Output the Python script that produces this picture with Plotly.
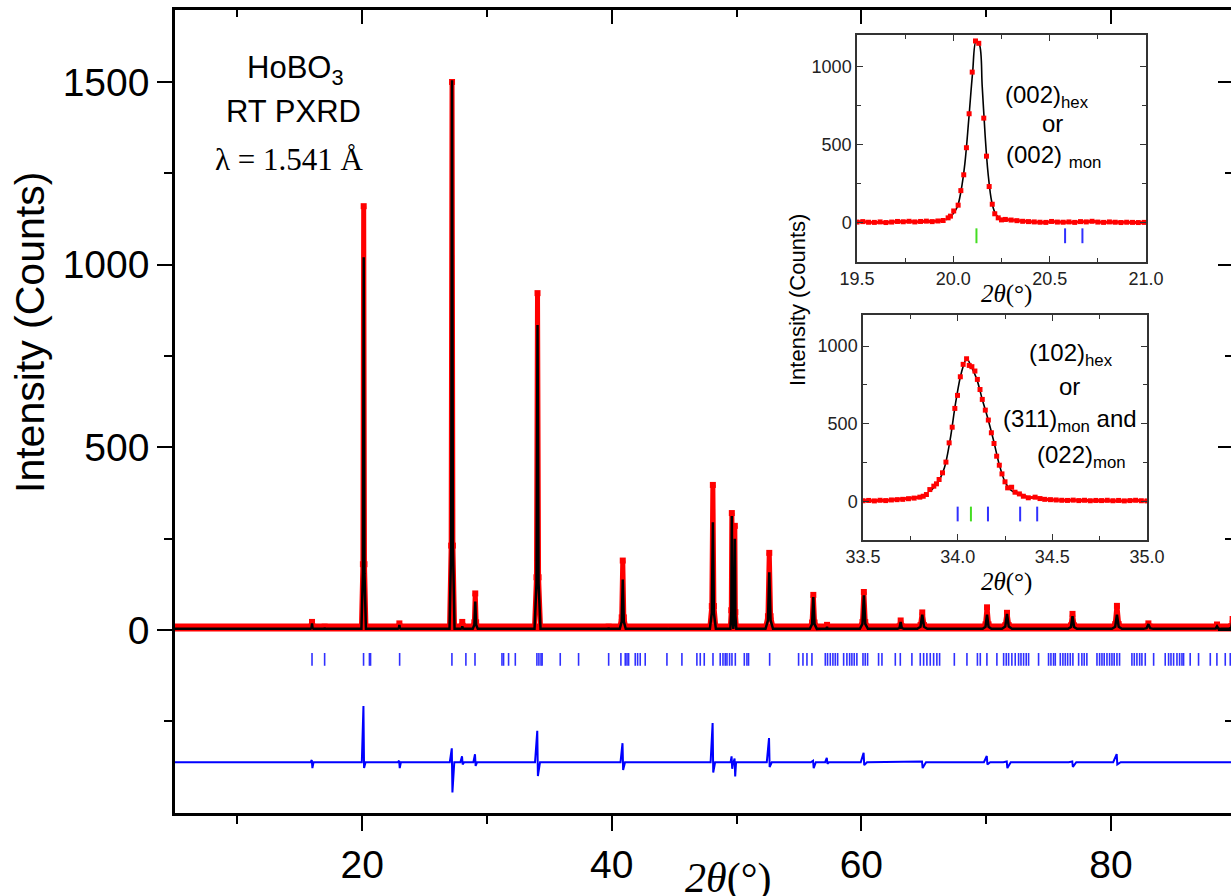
import plotly.graph_objects as go

# ---------------- main pattern ----------------
X_RANGE = [5.0, 89.62]
Y_RANGE = [-501, 1697]

peak_pos  = [15.98, 16.99, 20.12, 22.98, 27.20, 28.02, 29.06, 34.05, 39.75, 40.88, 44.42, 45.65,
             48.10, 49.62, 49.86, 52.62, 56.15, 57.25, 60.20, 63.15, 64.88, 70.07, 71.67,
             76.92, 80.48, 83.00, 88.50, 89.75]
calc_peak = [18, 6, 1020, 14, 1505, 10, 78, 835, 6, 138, 5, 5,
             295, 312, 250, 158, 90, 8, 95, 22, 42, 42, 44,
             38, 42, 16, 10, 28]
obs_peak  = [22, 9, 1160, 18, 1500, 22, 100, 922, 9, 190, 8, 8,
             397, 320, 285, 211, 96, 14, 104, 26, 48, 62, 47,
             44, 66, 18, 15, 30]
peak_hw   = [0.12, 0.12, 0.18, 0.12, 0.2, 0.15, 0.2, 0.24, 0.12, 0.24, 0.12, 0.12,
             0.24, 0.12, 0.12, 0.3, 0.28, 0.15, 0.32, 0.25, 0.4, 0.35, 0.4,
             0.35, 0.4, 0.4, 0.3, 0.3]
calc_base = 3
obs_base = 7

diff_base = -362
diff_pos  = [15.98, 20.12, 22.98, 27.20, 28.02, 29.06, 34.05, 40.88, 48.10, 49.62, 49.86,
             52.62, 56.15, 57.25, 60.20, 64.88, 70.07, 71.67, 76.92, 80.48]
diff_up   = [-356, -208, -358, -324, -346, -340, -276, -310, -255, -346, -352,
             -296, -358, -350, -336, -360, -345, -360, -360, -340]
diff_down = [-378, -378, -378, -445, -368, -372, -400, -383, -390, -380, -401,
             -375, -378, -366, -370, -378, -368, -378, -375, -368]
diff_hw   = [0.12, 0.15, 0.12, 0.18, 0.15, 0.15, 0.2, 0.18, 0.18, 0.1, 0.1,
             0.2, 0.2, 0.15, 0.25, 0.3, 0.25, 0.3, 0.3, 0.3]

hkl_pos = [15.98, 16.99, 20.11, 20.58, 20.67, 23.0, 27.19, 28.31, 29.04, 31.2, 31.33, 31.73, 32.27,
           34.0, 34.16, 34.33, 34.42, 35.87, 37.34, 39.75, 40.73, 41.08, 41.22, 41.35, 41.88, 42.07,
           42.28, 42.68, 44.42, 45.62, 46.82, 47.09, 47.41, 48.11, 48.69, 48.91, 49.09, 49.23, 49.44,
           49.63, 49.9, 50.62, 50.83, 50.96, 52.65, 54.97, 55.32, 55.64, 56.04, 57.11, 57.29, 57.51,
           57.72, 57.91, 58.1, 58.58, 58.84, 59.06, 59.24, 59.43, 59.64, 60.13, 60.31, 60.5, 61.38,
           61.65, 62.72, 63.12, 64.05, 64.72, 64.99, 65.25, 65.52, 65.79, 66.05, 66.27, 67.45, 68.46,
           69.3, 69.53, 70.06, 70.86, 71.4, 71.61, 71.8, 72.06, 72.33, 72.6, 72.79, 73.0, 73.21, 73.4,
           74.2, 75.0, 75.19, 75.4, 75.54, 75.94, 76.15, 76.34, 76.53, 76.74, 76.95, 77.41, 77.67,
           77.86, 78.07, 78.88, 79.09, 79.28, 79.46, 79.68, 79.89, 80.08, 80.26, 80.48, 80.69, 81.68,
           81.87, 82.08, 82.3, 82.48, 82.75, 83.42, 84.35, 84.62, 84.81, 85.02, 85.29, 85.5, 85.69,
           85.82, 86.35, 87.02, 87.96, 88.49, 89.16, 89.56]
hkl_y = [-63, -98]

y_major = [0, 500, 1000, 1500]
y_minor = [-250, 250, 750, 1250]

# ---------------- inset 1: (002) ----------------
in1_obs_x = [19.50, 19.53, 19.56, 19.59, 19.62, 19.65, 19.68, 19.71, 19.74, 19.77, 19.80, 19.83,
             19.86, 19.89, 19.92, 19.947, 19.973, 19.985, 20.002, 20.025, 20.039, 20.054, 20.068,
             20.082, 20.098, 20.115, 20.132, 20.158, 20.172, 20.186, 20.202, 20.215, 20.233, 20.25,
             20.27, 20.30, 20.33, 20.36, 20.39, 20.42, 20.45, 20.48, 20.51, 20.54, 20.57, 20.60,
             20.63, 20.66, 20.69, 20.72, 20.75, 20.78, 20.81, 20.84, 20.87, 20.90, 20.93, 20.96, 20.99]
in1_obs_y = [5, 8, 4, 3, 6, 2, 5, 9, 7, 10, 6, 9,
             11, 8, 12, 15, 32, 43, 76, 113, 206, 307, 480,
             697, 963, 1162, 1147, 669, 426, 232, 119, 58, 32, 19,
             22, 18, 14, 10, 8, 6, 4, 3, 9, 5, 4, 6,
             3, 8, 6, 10, 5, 3, 6, 4, 2, 4, 3, 2, 3]
in1_calc_x = [19.96, 19.99, 20.02, 20.04, 20.06, 20.08, 20.10, 20.118, 20.135, 20.15,
              20.165, 20.18, 20.20, 20.22, 20.25, 20.28]
in1_calc_y = [20, 45, 100, 205, 380, 660, 960, 1160, 1140, 870,
              560, 320, 130, 55, 20, 12]
in1_hex = [20.12]
in1_mon = [20.58, 20.67]

# ---------------- inset 2: (102) ----------------
in2_obs_x = [33.50, 33.53, 33.56, 33.59, 33.62, 33.65, 33.68, 33.71, 33.74, 33.77, 33.80, 33.818,
             33.835, 33.853, 33.874, 33.888, 33.902, 33.92, 33.938, 33.955, 33.971, 33.985, 33.999,
             34.014, 34.029, 34.047, 34.061, 34.075, 34.091, 34.104, 34.118, 34.13, 34.146, 34.162,
             34.178, 34.192, 34.206, 34.22, 34.234, 34.25, 34.264, 34.285, 34.303, 34.326, 34.347,
             34.373, 34.409, 34.435, 34.46, 34.49, 34.52, 34.55, 34.58, 34.61, 34.64, 34.67, 34.70,
             34.73, 34.76, 34.79, 34.82, 34.85, 34.88, 34.91, 34.94, 34.97, 35.0]
in2_obs_y = [3, 5, 2, 6, 4, 8, 10, 12, 16, 20, 26, 32,
             43, 75, 97, 112, 140, 183, 252, 376, 477, 598, 682,
             802, 882, 918, 875, 867, 839, 785, 720, 656, 587, 523,
             441, 372, 290, 232, 176, 125, 86, 90, 58, 47, 32,
             22, 26, 17, 12, 10, 8, 6, 5, 7, 4, 6, 3,
             5, 4, 6, 3, 5, 2, 4, 6, 3, 2]
in2_calc_x = [33.86, 33.90, 33.93, 33.96, 33.99, 34.02, 34.048, 34.07, 34.10,
              34.13, 34.16, 34.19, 34.22, 34.25, 34.28, 34.31]
in2_calc_y = [70, 130, 215, 395, 640, 830, 918, 872, 790,
              656, 530, 390, 235, 125, 72, 50]
in2_hex = [34.07]
in2_mon = [34.0, 34.16, 34.33, 34.42]
in_tick_y = [-35, -130]

# ---------------- helpers (layout geometry) ----------------
W, H = 1231, 896
ML, MR, MT, MB = 175, 0, 10, 83
PW, PH = W - ML - MR, H - MT - MB


def px(x):
    return (x - ML) / PW


def py(y):
    return (H - MB - y) / PH


def peak_line(base, heights):
    xs, ys = [X_RANGE[0]], [base]
    for p, h, w in zip(peak_pos, heights, peak_hw):
        xs += [p - w, p - 0.35 * w, p, p + 0.35 * w, p + w]
        ys += [base, base + 0.15 * (h - base), h, base + 0.15 * (h - base), base]
    xs.append(X_RANGE[1] + 2)
    ys.append(base)
    return xs, ys


def diff_line():
    xs, ys = [X_RANGE[0]], [diff_base]
    for p, u, d, w in zip(diff_pos, diff_up, diff_down, diff_hw):
        xs += [p - w, p - 0.02, p + 0.03, p + w]
        ys += [diff_base, u, d, diff_base]
    xs.append(X_RANGE[1] + 2)
    ys.append(diff_base)
    return xs, ys


def segs(positions, yy):
    xs, ys = [], []
    for p in positions:
        xs += [p, p, None]
        ys += [yy[0], yy[1], None]
    return xs, ys


RED = "#ff0000"
BLUE = "#0000ff"
TBLUE = "#3030ff"
GREEN = "#44dd22"
SANS = "Liberation Sans, Arial, sans-serif"
SERIF = "Liberation Serif, Times New Roman, serif"

fig = go.Figure()

ox, oy = peak_line(obs_base, obs_peak)
cx, cy = peak_line(calc_base, calc_peak)
dx, dy = diff_line()
tx, ty = segs(hkl_pos, hkl_y)

# observed: thick red background band + red peaks with square points
fig.add_trace(go.Scatter(x=[X_RANGE[0], X_RANGE[1] + 2], y=[obs_base, obs_base], mode="lines",
                         line=dict(color=RED, width=8), xaxis="x", yaxis="y", hoverinfo="skip"))
fig.add_trace(go.Scatter(x=ox, y=oy, mode="lines+markers", line=dict(color=RED, width=5),
                         marker=dict(color=RED, size=6, symbol="square"),
                         xaxis="x", yaxis="y", hoverinfo="skip"))
fig.add_trace(go.Scatter(x=cx, y=cy, mode="lines", line=dict(color="black", width=2.5),
                         xaxis="x", yaxis="y", hoverinfo="skip"))
fig.add_trace(go.Scatter(x=tx, y=ty, mode="lines", line=dict(color=TBLUE, width=1.6),
                         xaxis="x", yaxis="y", hoverinfo="skip"))
fig.add_trace(go.Scatter(x=dx, y=dy, mode="lines", line=dict(color=BLUE, width=2),
                         xaxis="x", yaxis="y", hoverinfo="skip"))
# invisible trace for the mirror axes (top / right)
fig.add_trace(go.Scatter(x=[None], y=[None], xaxis="x2", yaxis="y2", showlegend=False))

# inset 1
fig.add_trace(go.Scatter(x=in1_calc_x, y=in1_calc_y, mode="lines", line=dict(color="black", width=1.6),
                         line_shape="spline", xaxis="x3", yaxis="y3"))
fig.add_trace(go.Scatter(x=in1_obs_x, y=in1_obs_y, mode="markers",
                         marker=dict(color=RED, size=5, symbol="square"), xaxis="x3", yaxis="y3"))
fig.add_trace(go.Scatter(x=in1_obs_x[:16] + [None] + in1_obs_x[33:],
                         y=in1_obs_y[:16] + [None] + in1_obs_y[33:], mode="lines",
                         line=dict(color=RED, width=3), xaxis="x3", yaxis="y3"))
gx, gy = segs(in1_hex, in_tick_y)
fig.add_trace(go.Scatter(x=gx, y=gy, mode="lines", line=dict(color=GREEN, width=2), xaxis="x3", yaxis="y3"))
bx, by = segs(in1_mon, in_tick_y)
fig.add_trace(go.Scatter(x=bx, y=by, mode="lines", line=dict(color=TBLUE, width=2), xaxis="x3", yaxis="y3"))

# inset 2
fig.add_trace(go.Scatter(x=in2_calc_x, y=in2_calc_y, mode="lines", line=dict(color="black", width=1.6),
                         line_shape="spline", xaxis="x4", yaxis="y4"))
fig.add_trace(go.Scatter(x=in2_obs_x, y=in2_obs_y, mode="markers",
                         marker=dict(color=RED, size=5, symbol="square"), xaxis="x4", yaxis="y4"))
fig.add_trace(go.Scatter(x=in2_obs_x[:13] + [None] + in2_obs_x[42:],
                         y=in2_obs_y[:13] + [None] + in2_obs_y[42:], mode="lines",
                         line=dict(color=RED, width=3), xaxis="x4", yaxis="y4"))
gx, gy = segs(in2_hex, in_tick_y)
fig.add_trace(go.Scatter(x=gx, y=gy, mode="lines", line=dict(color=GREEN, width=2), xaxis="x4", yaxis="y4"))
bx, by = segs(in2_mon, in_tick_y)
fig.add_trace(go.Scatter(x=bx, y=by, mode="lines", line=dict(color=TBLUE, width=2), xaxis="x4", yaxis="y4"))

main_ax = dict(showgrid=False, zeroline=False, linecolor="black", linewidth=2.5,
               tickcolor="black", tickwidth=2, ticklen=15, automargin=False,
               tickfont=dict(family=SANS, size=39, color="black"))

fig.update_layout(
    width=W, height=H, autosize=False,
    margin=dict(l=ML, r=MR, t=MT, b=MB, autoexpand=False),
    paper_bgcolor="white", plot_bgcolor="white",
    showlegend=False,
    xaxis=dict(main_ax, range=X_RANGE, showline=True, ticks="outside", tick0=0, dtick=20,
               minor=dict(dtick=10, tick0=0, ticks="outside", ticklen=8, tickwidth=2, tickcolor="black"),
               anchor="y", domain=[0, 1]),
    yaxis=dict(main_ax, range=Y_RANGE, showline=True, ticks="outside", tickvals=y_major,
               minor=dict(tickvals=y_minor, ticks="outside", ticklen=8, tickwidth=2, tickcolor="black"),
               anchor="x", domain=[0, 1]),
    xaxis2=dict(main_ax, range=X_RANGE, overlaying="x", side="top", anchor="y", showline=True,
                ticks="inside", ticklen=14, tick0=0, dtick=20, showticklabels=False,
                minor=dict(dtick=10, tick0=0, ticks="inside", ticklen=7, tickwidth=2, tickcolor="black")),
    yaxis2=dict(main_ax, range=Y_RANGE, overlaying="y", anchor="free", position=1.0, side="left",
                showline=False, ticks="outside", ticklen=13, tickvals=y_major, showticklabels=False,
                minor=dict(tickvals=y_minor, ticks="outside", ticklen=6, tickwidth=2, tickcolor="black")),
)

inset_ax = dict(showgrid=False, zeroline=False, showline=True, linecolor="#333333", linewidth=1.5,
                mirror="allticks", ticks="inside", ticklen=6, tickwidth=1.3, tickcolor="#333333",
                automargin=False, tickfont=dict(family=SANS, size=18, color="#222222"))

fig.update_layout(
    xaxis3=dict(inset_ax, range=[19.5, 21.0], domain=[px(857), px(1146)], anchor="y3",
                tickvals=[19.5, 20.0, 20.5, 21.0], ticktext=["19.5", "20.0", "20.5", "21.0"],
                minor=dict(tickvals=[19.75, 20.25, 20.75], ticks="inside", ticklen=4, tickcolor="#333333")),
    yaxis3=dict(inset_ax, range=[-250, 1200], domain=[py(262), py(35)], anchor="x3",
                tickvals=[0, 500, 1000],
                minor=dict(tickvals=[250, 750], ticks="inside", ticklen=4, tickcolor="#333333")),
    xaxis4=dict(inset_ax, range=[33.5, 35.0], domain=[px(863), px(1147)], anchor="y4",
                tickvals=[33.5, 34.0, 34.5, 35.0], ticktext=["33.5", "34.0", "34.5", "35.0"],
                minor=dict(tickvals=[33.75, 34.25, 34.75], ticks="inside", ticklen=4, tickcolor="#333333")),
    yaxis4=dict(inset_ax, range=[-250, 1200], domain=[py(540), py(315)], anchor="x4",
                tickvals=[0, 500, 1000],
                minor=dict(tickvals=[250, 750], ticks="inside", ticklen=4, tickcolor="#333333")),
)


def ann(text, x, y, size, family=SANS, angle=0):
    fig.add_annotation(text=text, x=px(x), y=py(y), xref="paper", yref="paper",
                       showarrow=False, textangle=angle, xanchor="center", yanchor="middle",
                       font=dict(family=family, size=size, color="black"))


ann("Intensity (Counts)", 30, 333, 41, angle=-90)
ann("<i>2θ</i>(°)", 728, 878, 42, family=SERIF)
ann("HoBO<sub>3</sub>", 295, 70, 31)
ann("RT PXRD", 293, 112, 31)
ann("λ = 1.541 Å", 289, 160, 31, family=SERIF)

ann("Intensity (Counts)", 797, 300, 22, angle=-90)
ann("<i>2θ</i>(°)", 1006, 294, 25, family=SERIF)
ann("<i>2θ</i>(°)", 1006, 582, 25, family=SERIF)

ann("(002)<sub>hex</sub>", 1047, 97, 24)
ann("or", 1052, 123, 24)
ann("(002) <sub>mon</sub>", 1053, 157, 24)

ann("(102)<sub>hex</sub>", 1071, 354, 24)
ann("or", 1069, 386, 24)
ann("(311)<sub>mon</sub> and", 1070, 420, 24)
ann("(022)<sub>mon</sub>", 1081, 456, 24)

fig.write_html("out.html")
